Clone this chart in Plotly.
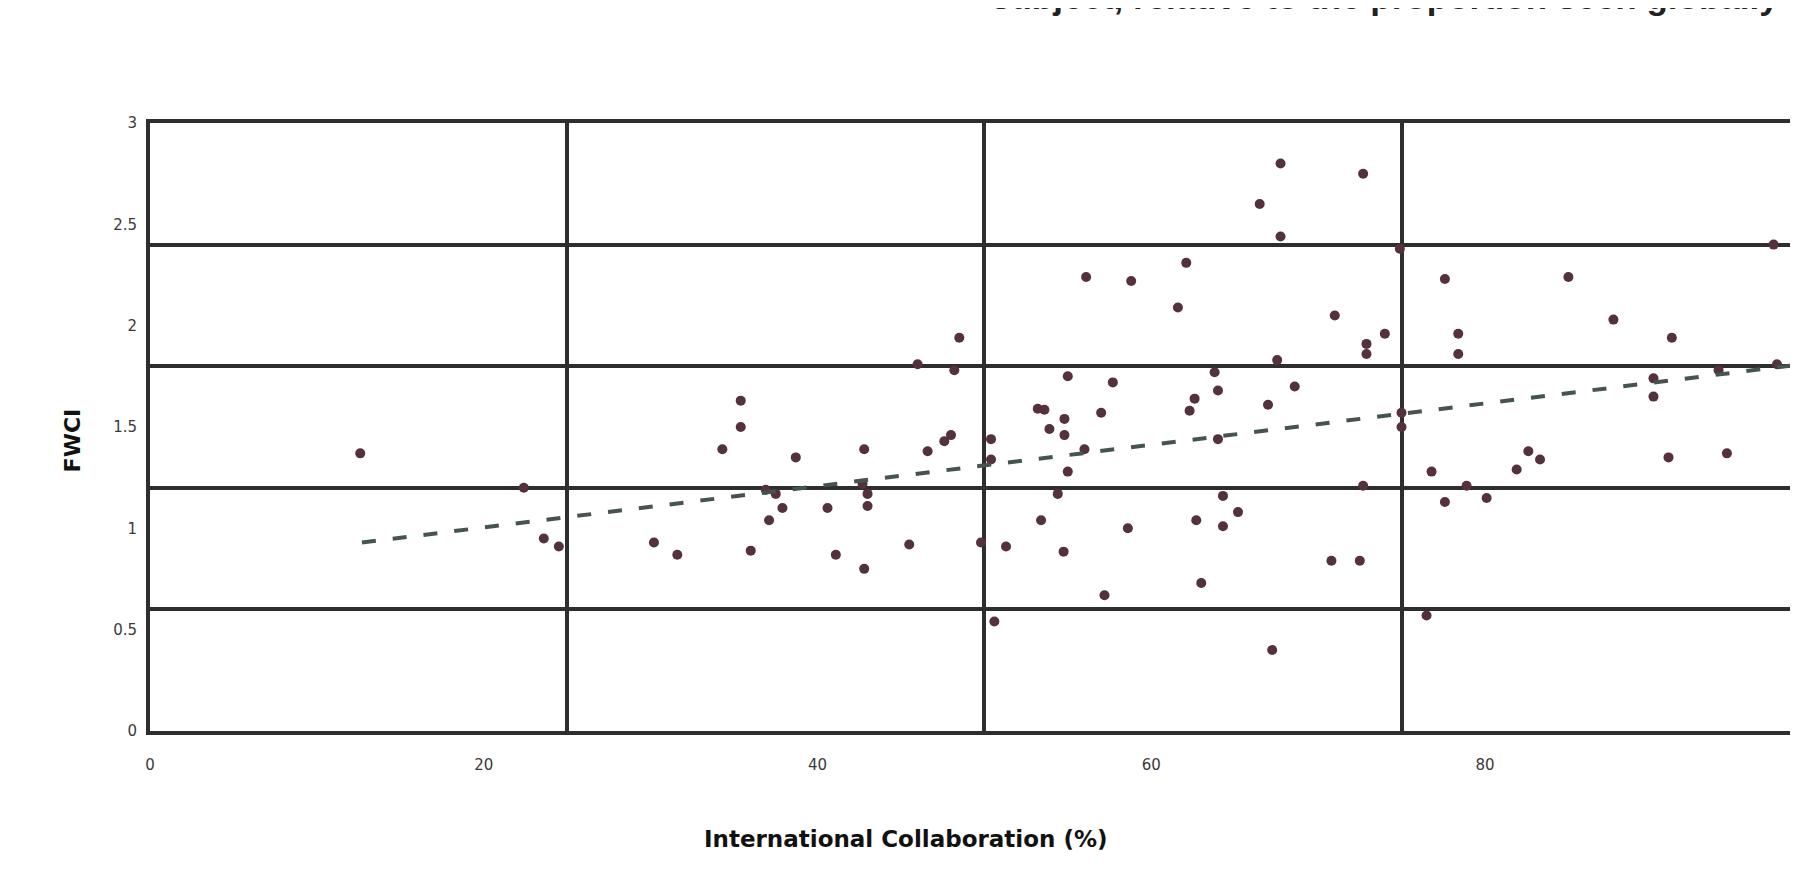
import plotly.graph_objects as go

# International Collaboration (%) vs FWCI
collab_x = [
    12.6, 22.4, 23.6, 24.5,
    48.5, 46.0, 48.2, 35.4, 35.4, 34.3, 38.7, 42.8, 46.6, 47.6, 48.0, 36.9, 37.5, 37.9, 37.1,
    40.6, 42.7, 43.0, 43.0, 30.2, 31.6, 36.0, 41.1, 42.8, 45.5, 49.8,
    50.4, 50.4, 50.6, 67.75, 72.7, 66.5, 67.75, 62.1, 56.1, 58.8, 61.6, 71.0, 74.0, 72.9, 72.9,
    67.55, 63.8, 55.0, 57.7, 64.0, 68.6, 62.6, 62.3, 67.0, 57.0, 53.2, 53.6, 54.8, 53.9, 54.8,
    56.0, 64.0, 55.0, 54.4, 72.7, 64.3, 65.2, 62.7, 64.3, 53.4, 58.6, 51.3, 54.75, 70.8, 72.5,
    63.0, 57.2, 67.25, 75.0, 75.0, 74.9,
    77.6, 85.0, 87.7, 91.2, 78.4, 78.4, 97.3, 97.5, 94.0, 90.1, 90.1, 76.8, 77.6, 78.9, 80.1,
    81.9, 82.6, 83.3, 91.0, 94.5, 76.5,
]
fwci_y = [
    1.37, 1.20, 0.95, 0.91,
    1.94, 1.81, 1.78, 1.63, 1.50, 1.39, 1.35, 1.39, 1.38, 1.43, 1.46, 1.19, 1.17, 1.10, 1.04,
    1.10, 1.22, 1.17, 1.11, 0.93, 0.87, 0.89, 0.87, 0.80, 0.92, 0.93,
    1.44, 1.34, 0.54, 2.80, 2.75, 2.60, 2.44, 2.31, 2.24, 2.22, 2.09, 2.05, 1.96, 1.91, 1.86,
    1.83, 1.77, 1.75, 1.72, 1.68, 1.70, 1.64, 1.58, 1.61, 1.57, 1.59, 1.585, 1.54, 1.49, 1.46,
    1.39, 1.44, 1.28, 1.17, 1.21, 1.16, 1.08, 1.04, 1.01, 1.04, 1.00, 0.91, 0.885, 0.84, 0.84,
    0.73, 0.67, 0.40, 1.57, 1.50, 2.38,
    2.23, 2.24, 2.03, 1.94, 1.96, 1.86, 2.40, 1.81, 1.78, 1.74, 1.65, 1.28, 1.13, 1.21, 1.15,
    1.29, 1.38, 1.34, 1.35, 1.37, 0.57,
]

# Linear trend line end points
trend_x = [12.7, 99.0]
trend_y = [0.93, 1.81]

x_tick_vals = [0, 20, 40, 60, 80, 100]
x_tick_text = ["0", "20", "40", "60", "80", "100"]
y_tick_vals = [0, 0.5, 1, 1.5, 2, 2.5, 3]
y_tick_text = ["0", "0.5", "1", "1.5", "2", "2.5", "3"]

x_range = [0, 99.0]
y_range = [0, 3]

LINE = "#2e2e2e"

fig = go.Figure()
fig.add_trace(go.Scatter(
    x=collab_x, y=fwci_y, mode="markers",
    marker=dict(color="#55303f", size=10),
    showlegend=False, hoverinfo="x+y",
))
fig.add_trace(go.Scatter(
    x=trend_x, y=trend_y, mode="lines",
    line=dict(color="#46554c", width=4, dash="14px,17px"),
    showlegend=False, hoverinfo="skip",
))
# empty trace to carry the label axes
fig.add_trace(go.Scatter(x=[], y=[], xaxis="x2", yaxis="y2",
                         showlegend=False, hoverinfo="skip"))

fig.update_layout(
    width=1798, height=878,
    margin=dict(l=142, r=0, t=115, b=155),
    paper_bgcolor="white", plot_bgcolor="white",
    xaxis=dict(range=x_range, tickmode="linear", tick0=0, dtick=25,
               showgrid=True, gridcolor=LINE, gridwidth=4,
               showticklabels=False, ticks="", zeroline=False,
               showline=True, linecolor=LINE, linewidth=4, mirror=True),
    yaxis=dict(range=y_range, tickmode="linear", tick0=0, dtick=0.6,
               showgrid=True, gridcolor=LINE, gridwidth=4,
               showticklabels=False, ticks="", zeroline=False,
               showline=True, linecolor=LINE, linewidth=4, mirror=True),
    xaxis2=dict(range=x_range, overlaying="x", anchor="y2", side="bottom",
                tickmode="array", tickvals=x_tick_vals, ticktext=x_tick_text,
                showgrid=False, zeroline=False, showline=False, ticks="",
                ticklabelstandoff=23,
                tickfont=dict(family="DejaVu Sans", size=15, color="#3a3a3a")),
    yaxis2=dict(range=y_range, overlaying="y", anchor="x2", side="left",
                tickmode="array", tickvals=y_tick_vals, ticktext=y_tick_text,
                showgrid=False, zeroline=False, showline=False, ticks="",
                ticklabelstandoff=12,
                tickfont=dict(family="DejaVu Sans", size=15, color="#3a3a3a")),
    annotations=[
        dict(text="<b>International Collaboration (%)</b>", xref="paper", yref="paper",
             x=0.4572, y=0, yshift=-108, xanchor="center", yanchor="middle",
             showarrow=False, font=dict(family="DejaVu Sans", size=23, color="#111111")),
        dict(text="<b>FWCI</b>", xref="paper", yref="paper",
             x=0, y=0.478, xshift=-78, xanchor="center", yanchor="middle",
             textangle=-90, showarrow=False,
             font=dict(family="DejaVu Sans", size=22, color="#111111")),
        dict(text="<b>subject, relative to the proportion seen globally</b>",
             xref="paper", yref="paper", x=1, y=1, xshift=-21, yshift=105,
             xanchor="right", yanchor="bottom", showarrow=False,
             font=dict(family="Liberation Sans", size=35, color="#222222")),
    ],
)

fig.write_html("out.html")
